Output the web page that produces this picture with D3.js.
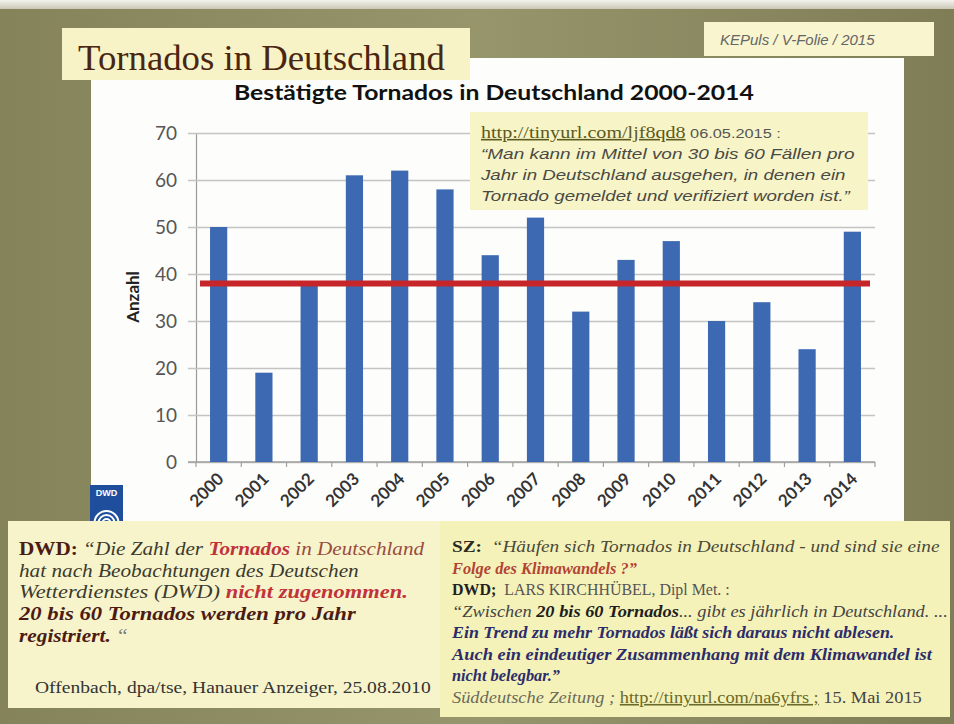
<!DOCTYPE html>
<html>
<head>
<meta charset="utf-8">
<script src="https://cdn.jsdelivr.net/npm/d3@7"></script>
<style>
  html, body { margin: 0; padding: 0; background: #fff; }
  svg { display: block; }
</style>
</head>
<body>
<svg id="chart" width="954" height="724"></svg>
<script>
// ---------------- DATA ----------------
const years = ["2000","2001","2002","2003","2004","2005","2006","2007","2008","2009","2010","2011","2012","2013","2014"];
const counts = [50, 19, 38, 61, 62, 58, 44, 52, 32, 43, 47, 30, 34, 24, 49];
const meanValue = 38;
const yTicks = [0, 10, 20, 30, 40, 50, 60, 70];

const slideTitle = "Tornados in Deutschland";
const chartTitle = "Bestätigte Tornados in Deutschland 2000-2014";
const yAxisLabel = "Anzahl";
const sourceTag = "KEPuls / V-Folie / 2015";

// ---------------- DRAWING ----------------
const svg = d3.select("#chart");
const defs = svg.append("defs");

const bg = defs.append("linearGradient").attr("id", "bgGrad").attr("x1", 0).attr("x2", 1).attr("y1", 0).attr("y2", 0);
bg.append("stop").attr("offset", "0%").attr("stop-color", "#85835a");
bg.append("stop").attr("offset", "50%").attr("stop-color", "#97956c");
bg.append("stop").attr("offset", "100%").attr("stop-color", "#7f7d55");

const topGrad = defs.append("linearGradient").attr("id", "topGrad").attr("x1", 0).attr("x2", 0).attr("y1", 0).attr("y2", 1);
topGrad.append("stop").attr("offset", "0%").attr("stop-color", "#f4f4f0");
topGrad.append("stop").attr("offset", "100%").attr("stop-color", "#c9c8b4");

svg.append("rect").attr("x", 0).attr("y", 0).attr("width", 954).attr("height", 724).attr("fill", "url(#bgGrad)");
svg.append("rect").attr("x", 0).attr("y", 0).attr("width", 954).attr("height", 9).attr("fill", "url(#topGrad)");

// white chart panel
svg.append("rect").attr("x", 91).attr("y", 58).attr("width", 813).attr("height", 470).attr("fill", "#fdfdfb");

// fit helper: scale a text element horizontally to a target width
function fit(sel, x0, width) {
  const bb = sel.node().getBBox();
  const s = width / bb.width;
  sel.attr("transform", `translate(${x0},0) scale(${s},1) translate(${-x0},0)`);
}

// slide title box
svg.append("rect").attr("x", 62).attr("y", 28).attr("width", 408).attr("height", 52).attr("fill", "#f8f3c6");
const st = svg.append("text").attr("x", 78).attr("y", 70)
  .attr("font-family", "'Liberation Serif', 'Times New Roman', serif")
  .attr("font-size", 36).attr("fill", "#4a2612").text(slideTitle);
fit(st, 78, 367);

// source tag box
svg.append("rect").attr("x", 704).attr("y", 22).attr("width", 230).attr("height", 34).attr("fill", "#f8f5cf");
svg.append("text").attr("x", 720).attr("y", 45)
  .attr("font-family", "'Liberation Sans', Arial, sans-serif").attr("font-style", "italic")
  .attr("font-size", 15).attr("fill", "#666").text(sourceTag);

// chart title
const ct = svg.append("text").attr("x", 234).attr("y", 100)
  .attr("font-family", "Lato, 'Open Sans', sans-serif").attr("font-weight", 700)
  .attr("font-size", 21).attr("fill", "#111").text(chartTitle);
fit(ct, 234, 520);

// scales
const x = d3.scaleBand().domain(years).range([196, 875]).paddingInner(0.62).paddingOuter(0.31);
const y = d3.scaleLinear().domain([0, 70]).range([462, 133]);

// gridlines + y axis
const yAxis = svg.append("g").attr("transform", "translate(196,0)")
  .call(d3.axisLeft(y).tickValues(yTicks).tickSizeInner(-(875 - 196)).tickSizeOuter(0).tickPadding(19));
yAxis.select(".domain").attr("stroke", "#9a9a9a").attr("stroke-width", 1.2);
yAxis.selectAll(".tick line").attr("x1", -8).attr("stroke", "#c4c4c4").attr("stroke-width", 1.6);
yAxis.selectAll(".tick text")
  .attr("font-family", "Lato, 'Open Sans', sans-serif").attr("font-size", 19).attr("fill", "#555");

// y label
svg.append("text").attr("transform", "translate(139,297) rotate(-90)")
  .attr("text-anchor", "middle")
  .attr("font-family", "Lato, 'Open Sans', sans-serif").attr("font-weight", 700)
  .attr("font-size", 17).attr("fill", "#222").text(yAxisLabel);

// x axis line + boundary tick marks
svg.append("line").attr("x1", 188).attr("x2", 875).attr("y1", y(0)).attr("y2", y(0))
  .attr("stroke", "#a0a0a0").attr("stroke-width", 1.6);
const step = x.step();
const bounds = d3.range(years.length + 1).map(i => x.range()[0] + i * step);
svg.append("g").selectAll("line").data(bounds).join("line")
  .attr("x1", d => d).attr("x2", d => d).attr("y1", y(0)).attr("y2", y(0) + 5)
  .attr("stroke", "#a0a0a0").attr("stroke-width", 1.2);

// annotation box (inside chart)
svg.append("rect").attr("x", 470).attr("y", 112).attr("width", 398).attr("height", 98).attr("fill", "#f7f4c8");

// bars
svg.append("g").selectAll("rect").data(years).join("rect")
  .attr("x", d => x(d)).attr("width", x.bandwidth())
  .attr("y", (d, i) => y(counts[i])).attr("height", (d, i) => y(0) - y(counts[i]))
  .attr("fill", "#3d69b2");

// mean line
svg.append("line").attr("x1", 200).attr("x2", 870).attr("y1", y(meanValue)).attr("y2", y(meanValue))
  .attr("stroke", "#c6262a").attr("stroke-width", 6);

// x labels
svg.append("g").selectAll("text").data(years).join("text")
  .attr("transform", d => `translate(${x(d) + x.bandwidth() / 2 + 6},480) rotate(-45)`)
  .attr("text-anchor", "end")
  .attr("font-family", "Lato, 'Open Sans', sans-serif").attr("font-weight", 700)
  .attr("font-size", 17).attr("fill", "#333").text(d => d);

// annotation text
const serif = "'Liberation Serif', 'Times New Roman', serif";
const sans = "'Liberation Sans', Arial, sans-serif";
const a1 = svg.append("text").attr("x", 481).attr("y", 138);
a1.append("tspan").attr("font-family", serif).attr("font-size", 16).attr("fill", "#5c5a1c")
  .attr("text-decoration", "underline").text("http://tinyurl.com/ljf8qd8");
a1.append("tspan").attr("font-family", sans).attr("font-size", 13).attr("fill", "#555").text("  06.05.2015 :");
fit(a1, 481, 300);

const annoLines = [
  "\u201CMan kann im Mittel von 30 bis 60 Fällen pro",
  "Jahr in Deutschland ausgehen, in denen ein",
  "Tornado gemeldet und verifiziert worden ist.\u201D"
];
const annoW = [374, 366, 370];
annoLines.forEach((t, i) => {
  const el = svg.append("text").attr("x", 481).attr("y", 159 + i * 21)
    .attr("font-family", sans).attr("font-style", "italic").attr("font-size", 15.5)
    .attr("fill", "#4a4a44").text(t);
  fit(el, 481, annoW[i]);
});

// DWD logo
const logo = svg.append("g").attr("transform", "translate(90,485)");
logo.append("rect").attr("width", 33).attr("height", 40).attr("fill", "#1f4f9c");
logo.append("text").attr("x", 16.5).attr("y", 11).attr("text-anchor", "middle")
  .attr("font-family", sans).attr("font-weight", 700).attr("font-size", 9).attr("fill", "#fff").text("DWD");
[12, 8, 4].forEach(r => {
  logo.append("circle").attr("cx", 16.5).attr("cy", 38).attr("r", r)
    .attr("fill", "none").attr("stroke", "#fff").attr("stroke-width", 2);
});

// bottom boxes
svg.append("rect").attr("x", 8).attr("y", 521).attr("width", 434).attr("height", 187).attr("fill", "#f7f4cc");
svg.append("rect").attr("x", 440).attr("y", 521).attr("width", 510).attr("height", 196).attr("fill", "#f5f2b9");

// text line helper
function line(xp, yp, parts, width) {
  const el = svg.append("text").attr("x", xp).attr("y", yp).attr("xml:space", "preserve");
  parts.forEach(p => {
    el.append("tspan")
      .attr("font-family", p.f || serif)
      .attr("font-size", p.s || 19)
      .attr("font-style", p.i ? "italic" : "normal")
      .attr("font-weight", p.b ? 700 : 400)
      .attr("fill", p.c || "#333")
      .attr("text-decoration", p.u ? "underline" : null)
      .text(p.t);
  });
  if (width) fit(el, xp, width);
  return el;
}
const dark = "#3c3a2e", red = "#c0333a", brown = "#4c1c14";
line(19, 555, [
  { t: "DWD", b: 1, c: brown }, { t: ": ", b: 1, c: brown },
  { t: "\u201CDie Zahl der ", i: 1, c: dark },
  { t: "Tornados", i: 1, b: 1, c: red },
  { t: " in Deutschland", i: 1, c: "#9a4c40" }
], 406);
line(19, 577, [{ t: "hat nach Beobachtungen des Deutschen", i: 1, c: dark }], 340);
line(19, 598, [
  { t: "Wetterdienstes (DWD) ", i: 1, c: dark },
  { t: "nicht zugenommen.", i: 1, b: 1, c: red }
], 389);
line(19, 620, [{ t: "20 bis 60 Tornados werden pro Jahr", i: 1, b: 1, c: brown }], 339);
line(19, 642, [
  { t: "registriert.", i: 1, b: 1, c: brown },
  { t: " \u201C", i: 1, c: "#777" }
], 109);
line(35, 693, [{ t: "Offenbach, dpa/tse, Hanauer Anzeiger, 25.08.2010", c: "#333", s: 17 }], 396);

// right quote
const navy = "#2c2c6a", gray = "#555";
line(452, 552, [
  { t: "SZ:", b: 1, c: "#2a2a22", s: 16 },
  { t: "  \u201CHäufen sich Tornados in Deutschland - und sind sie eine", i: 1, c: "#4a4a3a", s: 16 }
], 488);
line(452, 574, [{ t: "Folge des Klimawandels ?\u201D", i: 1, b: 1, c: "#b24434", s: 16 }], 186);
line(452, 595, [
  { t: "DWD;", b: 1, c: "#222", s: 16 },
  { t: "  LARS KIRCHHÜBEL, Dipl Met. :", c: gray, s: 16 }
], 278);
line(452, 617, [
  { t: "\u201CZwischen ", i: 1, c: "#444", s: 16 },
  { t: "20 bis 60 Tornados", i: 1, b: 1, c: "#1e1e1e", s: 16 },
  { t: "... gibt es jährlich in Deutschland. ...", i: 1, c: "#444", s: 16 }
], 496);
line(452, 638, [{ t: "Ein Trend zu mehr Tornados läßt sich daraus nicht ablesen.", i: 1, b: 1, c: navy, s: 16 }], 444);
line(452, 660, [{ t: "Auch ein eindeutiger Zusammenhang mit dem Klimawandel ist", i: 1, b: 1, c: navy, s: 16 }], 482);
line(452, 681, [{ t: "nicht belegbar.\u201D", i: 1, b: 1, c: navy, s: 16 }], 108);
line(452, 703, [
  { t: "Süddeutsche Zeitung ; ", i: 1, c: "#6a6a5a", s: 16 },
  { t: "http://tinyurl.com/na6yfrs ;", c: "#6a6a2a", u: 1, s: 16 },
  { t: " 15. Mai 2015", c: "#444", s: 16 }
], 470);
</script>
</body>
</html>
